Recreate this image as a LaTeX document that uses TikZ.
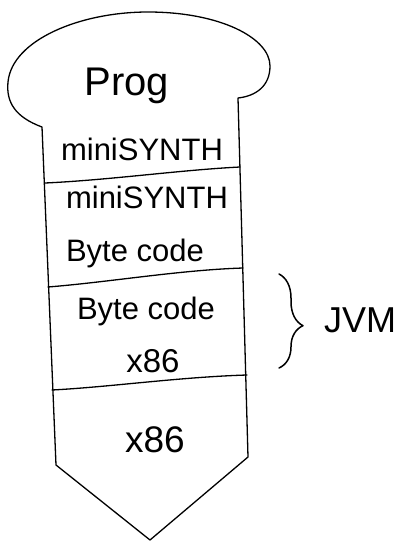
\documentclass[tikz,border=0pt]{standalone}
\usepackage{fontspec}
\setmainfont{Liberation Sans}
\usetikzlibrary{decorations.pathreplacing}
\begin{document}
\begin{tikzpicture}[x=1pt,y=-1pt,line width=1.3pt,line join=round,line cap=round,
  lbl/.style={inner sep=0pt,font=\fontsize{#1}{#1}\selectfont},
  lbl/.default=31]
\useasboundingbox (0,0) rectangle (399,542);
% outline
\coordinate (cl) at (42,127);
\coordinate (cr) at (238,98);
\coordinate (bl) at (56,465);
\coordinate (br) at (248,457);
\coordinate (tip) at (150,540);
\draw (cl) .. controls (15,117) and (6,102) .. (8,82)
      .. controls (12,40) and (80,12) .. (148,12)
      .. controls (220,12) and (270,38) .. (270,66)
      .. controls (270,86) and (256,96) .. (cr)
      -- (br) -- (tip) -- (bl) -- cycle;
% dividers
\coordinate (d1l) at (45,183); \coordinate (d1r) at (240,167);
\coordinate (d2l) at (48,287); \coordinate (d2r) at (243,268);
\coordinate (d3l) at (52,390); \coordinate (d3r) at (247,375);
\draw (d1l) .. controls (110,180) and (180,170) .. (d1r);
\draw (d2l) .. controls (110,282) and (180,270) .. (d2r);
\draw (d3l) .. controls (110,387) and (180,377) .. (d3r);
% texts
\node[lbl=40] (prog) at (127,86) {Prog};
\node[lbl] (ms1) at (142,149) {miniSYNTH};
\node[lbl] (ms2) at (147,197) {miniSYNTH};
\node[lbl] (bc1) at (135,253) {Byte code};
\node[lbl] (bc2) at (146,311) {Byte code};
\node[lbl=33] (x1) at (153,361) {x86};
\node[lbl=37] (x2) at (155,440) {x86};
% brace
\coordinate (bt) at (279,274);
\coordinate (bb) at (279,368);
\draw[line width=1.5pt,decorate,decoration={brace,amplitude=24pt,aspect=0.55}] (bt) -- (bb);
\node[lbl=36] (jvm) at (360,320) {JVM};
\end{tikzpicture}
\end{document}
